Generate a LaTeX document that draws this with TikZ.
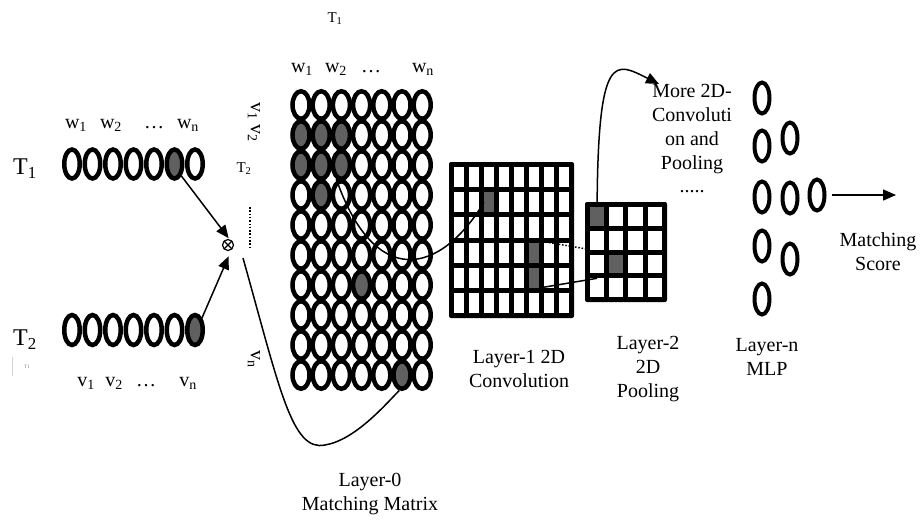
\documentclass[tikz,border=0pt]{standalone}
\usepackage{fontspec}
\setmainfont{Liberation Serif}
\usetikzlibrary{shapes.geometric,arrows.meta}
\definecolor{shade}{RGB}{96,96,96}
\newcommand\sub[1]{\textsubscript{#1}}
% cells that are filled dark: m = matching matrix, a = layer-1 grid, b = layer-2 grid
\newcommand\markhot[1]{\expandafter\gdef\csname hot#1\endcsname{}}
\markhot{m1-0}\markhot{m1-1}\markhot{m1-2}
\markhot{m2-0}\markhot{m2-1}\markhot{m2-2}
\markhot{m3-1}\markhot{m6-3}\markhot{m9-5}
\markhot{a1-2}\markhot{a3-5}\markhot{a4-5}
\markhot{b0-0}\markhot{b2-1}
\newcommand\pickfill[1]{\ifcsname hot#1\endcsname\def\cf{shade}\else\def\cf{white}\fi}

\tikzset{
  lbl/.style={font=\fontsize{20}{24}\selectfont, inner sep=0pt, align=center},
  biglbl/.style={font=\fontsize{24}{28}\selectfont, inner sep=0pt},
  smalllbl/.style={font=\fontsize{15}{18}\selectfont, inner sep=0pt},
  bead/.style={ellipse, draw, line width=4.5pt, inner sep=0pt, minimum width=15.5pt, minimum height=29pt},
  cellbead/.style={ellipse, draw, line width=4.5pt, inner sep=0pt, minimum width=17pt, minimum height=27.5pt},
  mlpbead/.style={ellipse, draw, line width=4pt, inner sep=0pt, minimum width=15pt, minimum height=31pt},
  gcell/.style={rectangle, inner sep=0pt, outer sep=0pt},
  gridframe/.style={fill=black, rounded corners=2pt},
  link/.style={line width=1.5pt},
  arr/.style={link, -{Triangle[length=13pt,width=11pt]}},
  dotline/.style={line width=1.5pt, dash pattern=on 1.5pt off 1.8pt},
}

\begin{document}
\begin{tikzpicture}[x=1pt,y=-1pt]
\useasboundingbox (0,0) rectangle (921,523);

% ---- the two input sentences ----
\foreach \i in {0,...,6}{
  \ifnum\i=5 \def\cf{shade}\else\def\cf{white}\fi
  \node[bead, fill=\cf] (ta-\i) at ({72+20.5*\i},164) {};
  \ifnum\i=6 \def\cf{shade}\else\def\cf{white}\fi
  \node[bead, fill=\cf, minimum height=30pt] (tb-\i) at ({72+20.5*\i},330) {};
}
\node[biglbl] (t1) at (25,169) {T\sub{1}};
\node[biglbl] (t2) at (25,340) {T\sub{2}};
\node[lbl, anchor=base] (wa1) at (76,128) {w\sub{1}};
\node[lbl, anchor=base] (wa2) at (111,128) {w\sub{2}};
\node[lbl, anchor=base] (wad) at (154,128) {\dots};
\node[lbl, anchor=base] (wan) at (188,128) {w\sub{n}};
\node[lbl, anchor=base] (va1) at (86,386) {v\sub{1}};
\node[lbl, anchor=base] (va2) at (114,386) {v\sub{2}};
\node[lbl, anchor=base] (vad) at (146,386) {\dots};
\node[lbl, anchor=base] (van) at (188,386) {v\sub{n}};
\node[font=\fontsize{5}{6}\selectfont, text=gray, inner sep=0pt] (tiny) at (27,367) {T1};
\coordinate (ca) at (12,357);
\coordinate (cb) at (12,376);
\draw[gray!35, line width=0.5pt] (ca) -- (cb);

% ---- layer-0 matching matrix ----
\foreach \ri in {0,...,9}{\foreach \ci in {0,...,6}{
  \pickfill{m\ri-\ci}
  \node[cellbead, fill=\cf] (m-\ri-\ci) at ({301+20.2*\ci},{105+30*\ri}) {};
}}
\node[smalllbl] (mt1) at (335,19) {T\sub{1}};
\node[lbl, anchor=base] (mw1) at (302,72) {w\sub{1}};
\node[lbl, anchor=base] (mw2) at (336,72) {w\sub{2}};
\node[lbl, anchor=base] (mwd) at (371,72) {\dots};
\node[lbl, anchor=base] (mwn) at (423,72) {w\sub{n}};
\node[lbl, rotate=-90] (mv12) at (254,122) {v\sub{1} v\sub{2}};
\node[smalllbl] (mt2) at (244,169) {T\sub{2}};
\node[lbl, rotate=-90] (mvn) at (254,359) {v\sub{n}};
\coordinate (da) at (250,207);
\coordinate (db) at (250,247);
\draw[dotline] (da) -- (db);

% product operator
\node[circle, draw, line width=1.2pt, minimum size=11pt, inner sep=0pt, outer sep=0pt] (ot) at (228,245) {};
\draw[line width=1.2pt] (ot.45) -- (ot.225) (ot.135) -- (ot.-45);

% ---- layer-1 convolution grid ----
\fill[gridframe] (449,162) rectangle (574,318);
\foreach \ri in {0,...,5}{\foreach \ci in {0,...,7}{
  \pickfill{a\ri-\ci}
  \node[gcell, fill=\cf, minimum width=10pt, minimum height=20.2pt] (la-\ri-\ci) at ({459+15*\ci},{177.1+25.2*\ri}) {};
}}

% ---- layer-2 pooling grid ----
\fill[gridframe] (585,202) rectangle (667,302);
\foreach \ri in {0,...,3}{\foreach \ci in {0,...,3}{
  \pickfill{b\ri-\ci}
  \node[gcell, fill=\cf, minimum width=14.25pt, minimum height=18.75pt] (lb-\ri-\ci) at ({597.1+19.25*\ci},{216.4+23.75*\ri}) {};
}}

% ---- layer-n MLP ----
\foreach \y [count=\k] in {98,146,197,246,299} \node[mlpbead] (pa-\k) at (762,\y) {};
\foreach \y [count=\k] in {138,198,259} \node[mlpbead] (pb-\k) at (790,\y) {};
\node[mlpbead] (pc) at (817,195) {};

% ---- captions ----
\node[lbl] (l0) at (370,494) {Layer-0\\Matching Matrix};
\node[lbl] (l1) at (519,369) {Layer-1 2D\\Convolution};
\node[lbl] (l2) at (648,369) {Layer-2\\2D\\Pooling};
\node[lbl] (ln) at (767,357) {Layer-n\\MLP};
\node[lbl] (ms) at (878,252) {Matching\\Score};
\node[lbl] (more) at (692,129) {More 2D-\\Convoluti\\on and\\Pooling};
\node[lbl] (mdots) at (692,192) {.....};

% ---- connectors ----
\coordinate (cs) at (243,258);
\coordinate (mtip) at (659,84);
\coordinate (sc) at (896,195);
\draw[arr, shorten >=2pt] (ta-5.-60) -- (ot.70);
\draw[arr, shorten >=8pt] (tb-6.60) -- (ot.-45);
\draw[link] (cs) .. controls (280,390) and (292,452) .. (325,445)
                 .. controls (355,440) and (385,405) .. (m-9-5.-100);
\draw[link] (m-2-2.-110) .. controls (375,290) and (440,275) .. (la-1-2.west);
\draw[dotline] (la-3-6.north) -- (lb-1-0.south west);
\draw[link] (la-4-5.south east) -- (lb-3-0.north);
\draw[arr] (lb-0-0.north) .. controls (598,50) and (615,62) .. (mtip);
\draw[arr, shorten <=5pt] (pc.east) -- (sc);
\end{tikzpicture}
\end{document}
